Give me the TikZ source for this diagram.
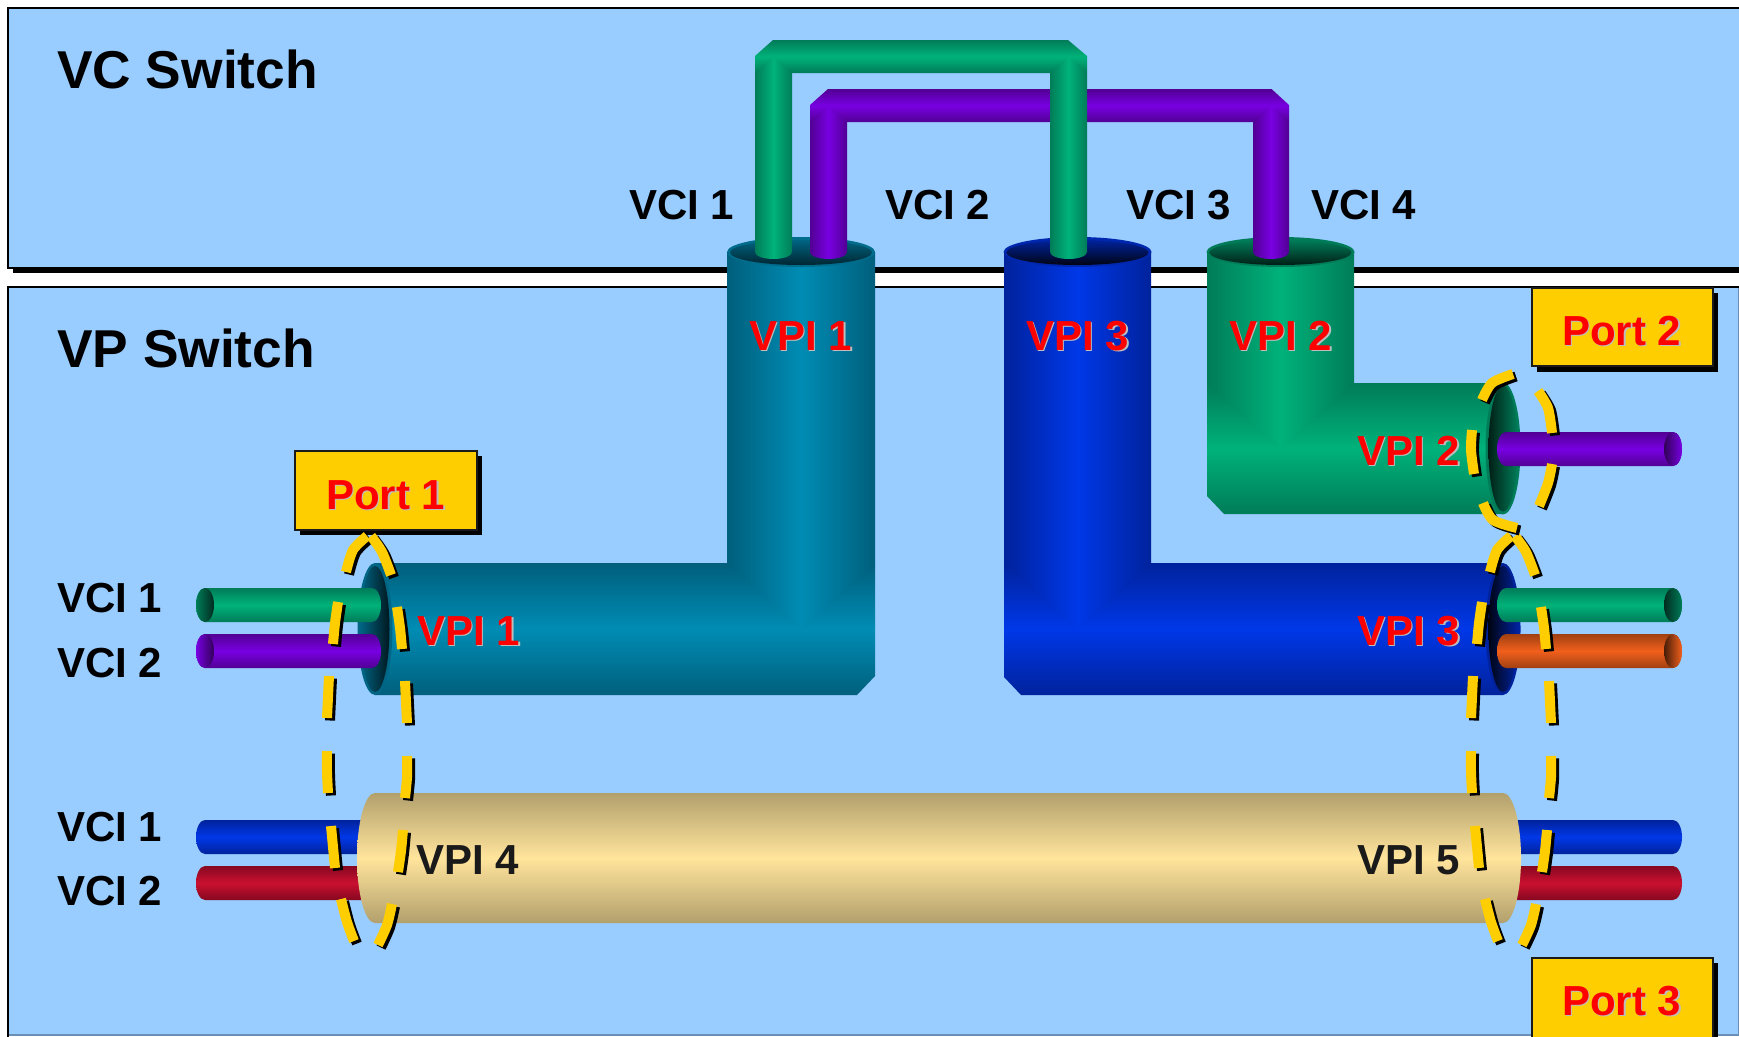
\documentclass[tikz,border=0pt]{standalone}
\usepackage{fontspec}
\setmainfont{Liberation Sans}
\definecolor{panel}{HTML}{99CCFF}
\definecolor{frameedge}{HTML}{6A8FB5}
\definecolor{tealE}{HTML}{005F7C}\definecolor{tealC}{HTML}{008CB4}
\definecolor{blueE}{HTML}{00229C}\definecolor{blueC}{HTML}{0038E8}
\definecolor{greenE}{HTML}{007C58}\definecolor{greenC}{HTML}{00B27A}
\definecolor{purpE}{HTML}{520094}\definecolor{purpC}{HTML}{7800E2}
\definecolor{orE}{HTML}{A04012}\definecolor{orC}{HTML}{F2601C}
\definecolor{redE}{HTML}{860820}\definecolor{redC}{HTML}{CA1030}
\definecolor{tanE}{HTML}{B2A06C}\definecolor{tanC}{HTML}{FFE49C}
\definecolor{portY}{HTML}{FFCE00}
\definecolor{txtdark}{HTML}{1A1A1A}
\definecolor{shadowgr}{HTML}{BDBDBD}
\newcommand\shtext[1]{\leavevmode\rlap{\kern1.6pt\raisebox{-1.6pt}{\textcolor{shadowgr}{#1}}}\textcolor{red}{#1}}
\newcommand\dashseg[1]{%
  \draw[dashshadow] plot[smooth] coordinates {#1};
  \draw[dashyellow] plot[smooth] coordinates {#1};}
\newcommand\bigring{%
  \dashseg{(346,572) (353,550) (367,536)}
  \dashseg{(371,536) (382,552) (391,575)}
  \dashseg{(338,602) (335,623) (333,644)}
  \dashseg{(397,607) (400,628) (402,649)}
  \dashseg{(329,676) (328,697) (327,718)}
  \dashseg{(405,681) (406,702) (407,723)}
  \dashseg{(327,751) (327,772) (328,793)}
  \dashseg{(407,756) (407,777) (405,798)}
  \dashseg{(331,826) (333,847) (335,868)}
  \dashseg{(403,830) (401,851) (398,872)}
  \dashseg{(341,899) (347,922) (354,941)}
  \dashseg{(392,904) (387,925) (378,945)}}
\tikzset{
  x=1pt,y=-1pt,
  hg/.style={top color=#1E,bottom color=#1E,middle color=#1C},
  vg/.style={left color=#1E,right color=#1E,middle color=#1C},
  dashyellow/.style={draw=portY,line width=10pt},
  dashshadow/.style={draw=black,line width=10pt,shift={(3,2.5)}},
  lab/.style={anchor=base west,inner sep=0pt,font=\bfseries\fontsize{42}{42}\selectfont},
  title/.style={anchor=base west,inner sep=0pt,font=\bfseries\fontsize{53.3}{53.3}\selectfont},
  portbox/.style={draw=txtdark,line width=2.5pt,fill=portY},
  portshadow/.style={fill=black},
}
\begin{document}
\begin{tikzpicture}
\useasboundingbox (0,0) rectangle (1739,1036);
\clip (0,0) rectangle (1739,1036);
\fill[white] (0,0) rectangle (1739,1036);
% panels
\fill[black] (13,20) rectangle (1745,273);
\fill[panel] (8,8) rectangle (1745,267.5);
\draw[black,line width=2.5pt] (1745,8) -- (8,8) -- (8,268) -- (1745,268);
\fill[panel] (8,287) rectangle (1738,1035);
\draw[frameedge,line width=1.5pt] (1738.5,287) -- (1738.5,1035) -- (8,1035);
\draw[black,line width=2.5pt] (1745,287) -- (8,287) -- (8,1040);
% small wires behind the tan tube
\shade[hg=blue] (205,820) -- (1673,820) arc[start angle=-90,end angle=90,x radius=9,y radius=17] -- (205,854) arc[start angle=90,end angle=270,x radius=9,y radius=17] -- cycle;
\shade[hg=red] (205,866) -- (1673,866) arc[start angle=-90,end angle=90,x radius=9,y radius=17] -- (205,900) arc[start angle=90,end angle=270,x radius=9,y radius=17] -- cycle;
% tan tube
\shade[hg=tan] (375,793) -- (1503,793) arc[start angle=-90,end angle=90,x radius=18,y radius=65] -- (375,923) arc[start angle=90,end angle=270,x radius=18,y radius=65] -- cycle;
% teal elbow
\shade[hg=teal] (375,563) -- (875,563) -- (875,676) -- (857,695) -- (375,695) -- cycle;
\shade[vg=teal] (727,252) -- (875,252) -- (875,563) -- (801,629) -- (727,563) -- cycle;
\fill[tealE!85!tealC] (375,629) ellipse [x radius=17.5,y radius=66];
\shade[left color=tealE!90!tealC,right color=tealE!25!black] (375,629) ellipse [x radius=14.5,y radius=63];
\fill[tealE!70!tealC] (801,252) ellipse [x radius=74,y radius=15];
\shade[top color=tealE!90!tealC,bottom color=tealE!40!black] (801,252.5) ellipse [x radius=71,y radius=12.5];
% blue elbow
\shade[hg=blue] (1004,563) -- (1503,563) -- (1503,695) -- (1021,695) -- (1004,677) -- cycle;
\shade[vg=blue] (1004,252) -- (1151,252) -- (1151,563) -- (1077.5,629) -- (1004,563) -- cycle;
\fill[blueE] (1503,629) ellipse [x radius=17.5,y radius=66];
\shade[left color=blueE!12!black,right color=blueE] (1503,629) ellipse [x radius=14.5,y radius=63];
\fill[blueE!75!blueC] (1077.5,252) ellipse [x radius=74,y radius=15];
\shade[top color=blueE,bottom color=blueE!12!black] (1077.5,252.5) ellipse [x radius=71,y radius=12.5];
% green elbow
\shade[hg=green] (1207,383) -- (1503,383) -- (1503,514) -- (1224,514) -- (1207,496) -- cycle;
\shade[vg=green] (1207,252) -- (1354,252) -- (1354,383) -- (1280.5,448.5) -- (1207,383) -- cycle;
\fill[greenE] (1503,448.5) ellipse [x radius=17.5,y radius=66];
\shade[left color=greenE!25!black,right color=greenE] (1503,448.5) ellipse [x radius=14.5,y radius=63];
\fill[greenE] (1280.5,252) ellipse [x radius=74,y radius=15];
\shade[top color=greenE,bottom color=greenE!25!black] (1280.5,252.5) ellipse [x radius=71,y radius=12.5];
% purple VCI pipe
\shade[hg=purp] (810,105) -- (828,89) -- (1271.5,89) -- (1289,105) -- (1289,122) -- (810,122) -- cycle;
\shade[vg=purp] (810,122) -- (828.5,105.5) -- (847,122) -- (847,252) arc[start angle=0,end angle=180,x radius=18.5,y radius=7] -- cycle;
\shade[vg=purp] (1253,122) -- (1271,105.5) -- (1289,122) -- (1289,252) arc[start angle=0,end angle=180,x radius=18,y radius=7] -- cycle;
% green VCI pipe
\shade[hg=green] (755,56) -- (773,40) -- (1068,40) -- (1087,56) -- (1087,73) -- (755,73) -- cycle;
\shade[vg=green] (755,73) -- (773.5,56.5) -- (792,73) -- (792,252) arc[start angle=0,end angle=180,x radius=18.5,y radius=7] -- cycle;
\shade[vg=green] (1050,73) -- (1068.5,56.5) -- (1087,73) -- (1087,252) arc[start angle=0,end angle=180,x radius=18.5,y radius=7] -- cycle;
% left wires
\shade[hg=green] (205,588) -- (372,588) arc[start angle=-90,end angle=90,x radius=9,y radius=17] -- (205,622) arc[start angle=90,end angle=270,x radius=9,y radius=17] -- cycle;
\shade[left color=greenE,right color=greenE!35!black] (205,605) ellipse [x radius=9,y radius=17];
\shade[hg=purp] (205,634) -- (372,634) arc[start angle=-90,end angle=90,x radius=9,y radius=17] -- (205,668) arc[start angle=90,end angle=270,x radius=9,y radius=17] -- cycle;
\shade[left color=purpC,right color=purpE!60!black] (205,651) ellipse [x radius=9,y radius=17];
% right wires
\shade[hg=purp] (1506,432) -- (1673,432) arc[start angle=-90,end angle=90,x radius=9,y radius=17] -- (1506,466) arc[start angle=90,end angle=270,x radius=9,y radius=17] -- cycle;
\shade[left color=purpE!60!black,right color=purpC] (1673,449) ellipse [x radius=9,y radius=17];
\shade[hg=green] (1506,588) -- (1673,588) arc[start angle=-90,end angle=90,x radius=9,y radius=17] -- (1506,622) arc[start angle=90,end angle=270,x radius=9,y radius=17] -- cycle;
\shade[left color=greenE!35!black,right color=greenE] (1673,605) ellipse [x radius=9,y radius=17];
\shade[hg=or] (1506,634) -- (1673,634) arc[start angle=-90,end angle=90,x radius=9,y radius=17] -- (1506,668) arc[start angle=90,end angle=270,x radius=9,y radius=17] -- cycle;
\shade[left color=orE!45!black,right color=orC] (1673,651) ellipse [x radius=9,y radius=17];
% port boxes
\fill[portshadow] (300,456) rectangle (482,535);
\draw[portbox] (295,451) rectangle (477,530);
\fill[portshadow] (1537,293) rectangle (1718,372);
\draw[portbox] (1532,288) rectangle (1713,366);
\fill[portshadow] (1537,963) rectangle (1718,1045);
\draw[portbox] (1532,958) rectangle (1713,1045);
% dashed rings
\bigring
\begin{scope}[shift={(1144,0)}]\bigring\end{scope}
\dashseg{(1482,400) (1492,383) (1513,374)}
\dashseg{(1538,391) (1548,408) (1552,433)}
\dashseg{(1472,430) (1471,450) (1474,474)}
\dashseg{(1552,464) (1548,483) (1539,506)}
\dashseg{(1483,503) (1493,520) (1517,528)}
% texts
\node[title] (vcsw) at (57,88.7) {VC Switch};
\node[title] (vpsw) at (57,367) {VP Switch};
\node[lab] (t1) at (629,219) {VCI 1};
\node[lab] (t2) at (885,219) {VCI 2};
\node[lab] (t3) at (1126,219) {VCI 3};
\node[lab] (t4) at (1311,219) {VCI 4};
\node[lab] (l1) at (57,612) {VCI 1};
\node[lab] (l2) at (57,677) {VCI 2};
\node[lab] (l3) at (57,841) {VCI 1};
\node[lab] (l4) at (57,905) {VCI 2};
\node[lab] (v1a) at (749,350) {\shtext{VPI 1}};
\node[lab] (v3a) at (1026,350) {\shtext{VPI 3}};
\node[lab] (v2a) at (1229,350) {\shtext{VPI 2}};
\node[lab] (v1b) at (417,645) {\shtext{VPI 1}};
\node[lab] (v3b) at (1357,645) {\shtext{VPI 3}};
\node[lab] (v2b) at (1357,465) {\shtext{VPI 2}};
\node[lab,text=txtdark] (v4) at (416,874) {VPI 4};
\node[lab,text=txtdark] (v5) at (1357,874) {VPI 5};
\node[lab] (p1) at (326,509) {\shtext{Port 1}};
\node[lab] (p2) at (1562,345) {\shtext{Port 2}};
\node[lab] (p3) at (1562,1015) {\shtext{Port 3}};
\end{tikzpicture}
\end{document}
